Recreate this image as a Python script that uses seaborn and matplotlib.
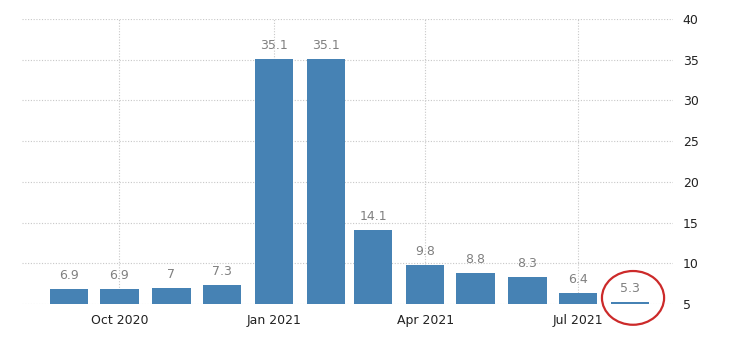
import matplotlib
matplotlib.use("Agg")
import matplotlib.pyplot as plt
import matplotlib.dates as mdates
from matplotlib.patches import Ellipse
import seaborn as sns
import pandas as pd
import numpy as np

months = ["2020-09-01", "2020-10-01", "2020-11-01", "2020-12-01", "2021-01-01", "2021-02-01",
          "2021-03-01", "2021-04-01", "2021-05-01", "2021-06-01", "2021-07-01", "2021-08-01"]
values = [6.9, 6.9, 7.0, 7.3, 35.1, 35.1, 14.1, 9.8, 8.8, 8.3, 6.4, 5.3]
value_labels = ["6.9", "6.9", "7", "7.3", "35.1", "35.1", "14.1", "9.8", "8.8", "8.3", "6.4", "5.3"]
tick_dates = ["2020-10-01", "2021-01-01", "2021-04-01", "2021-07-01"]
tick_labels = ["Oct 2020", "Jan 2021", "Apr 2021", "Jul 2021"]
y_ticks = [5, 10, 15, 20, 25, 30, 35, 40]

sns.set_theme(style="white")
plt.rcParams['font.family'] = ['DejaVu Sans']

dnum = mdates.date2num(pd.to_datetime(months))
df = pd.DataFrame({"x": dnum, "v": values})

fig = plt.figure(figsize=(7.3, 3.4), dpi=100)
ax = fig.add_axes([22/730, 1-304/340, (673-22)/730, (304-19)/340])

sns.barplot(data=df, x="x", y="v", native_scale=True, color="#4682b4",
            saturation=1, width=0.82, ax=ax, zorder=3, errorbar=None,
            linewidth=0, edgecolor="none")

ax.set_ylim(5, 40)
ax.set_xlim(dnum[0] - 28, dnum[-1] + 25.6)

tnum = mdates.date2num(pd.to_datetime(tick_dates))
ax.set_xticks(tnum)
ax.set_xticklabels(tick_labels, fontsize=9, color="#222222")
ax.set_yticks(y_ticks)
ax.set_yticklabels([str(t) for t in y_ticks], fontsize=9, color="#222222")
ax.yaxis.tick_right()
ax.tick_params(axis="y", length=0, pad=7)
ax.tick_params(axis="x", length=4, color="#cccccc", pad=3)
ax.set_xlabel("")
ax.set_ylabel("")
for s in ax.spines.values():
    s.set_visible(False)
ax.grid(True, axis="both", linestyle=(0, (1, 1.5)), color="#c8c8c8", linewidth=0.8, zorder=0)

for xv, v, lab in zip(dnum, values, value_labels):
    ax.annotate(lab, (xv, v), xytext=(0, 5), textcoords="offset points",
                ha="center", va="bottom", fontsize=9, color="#808080")

ell = Ellipse((dnum[-1] + 1.8, 5.75), width=37, height=6.6, fill=False,
              edgecolor="#cc2a2a", linewidth=1.6, clip_on=False, zorder=5)
ax.add_patch(ell)

fig.savefig("out.png", dpi=100)
